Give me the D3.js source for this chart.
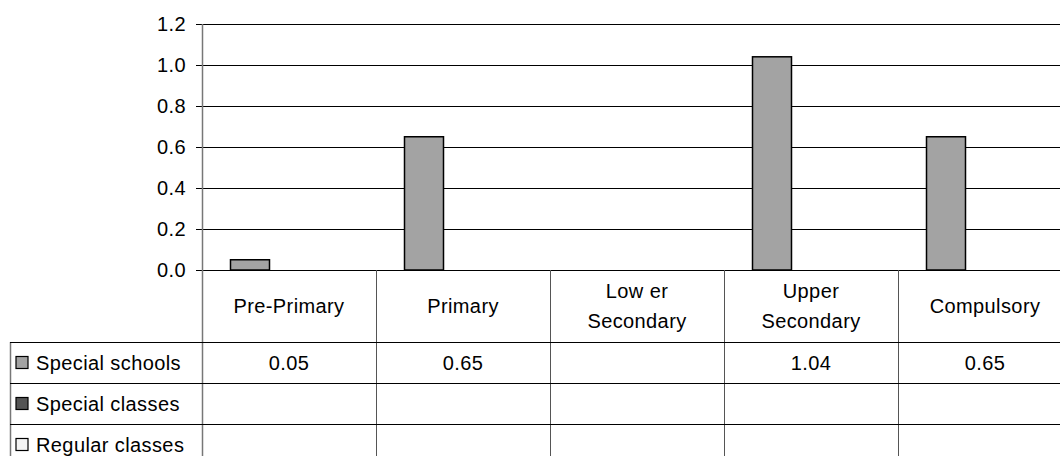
<!DOCTYPE html>
<html>
<head>
<meta charset="utf-8">
<script src="https://cdn.jsdelivr.net/npm/d3@7"></script>
<style>
  body { margin: 0; background: #fff; }
  text { font-family: "Liberation Sans", Arial, sans-serif; fill: #000; letter-spacing: 0.4px; }
</style>
</head>
<body>
<svg id="chart"></svg>
<script>
// data
const categories = [['Pre-Primary'], ['Primary'], ['Low er', 'Secondary'], ['Upper', 'Secondary'], ['Compulsory']]
const seriesNames = ['Special schools', 'Special classes', 'Regular classes']
const seriesColors = ['#a3a3a3', '#555555', '#f4f4f4']
const specialSchools = [0.05, 0.65, null, 1.04, 0.65]
const specialClasses = [null, null, null, null, null]
const regularClasses = [null, null, null, null, null]
const yTicks = [0, 0.2, 0.4, 0.6, 0.8, 1.0, 1.2]

const series = [specialSchools, specialClasses, regularClasses]

const width = 1060
const height = 456

/* layout */
const plot = { left: 202, right: 1072, top: 24, bottom: 270 }
const table = { left: 10, headBottom: 342, rowH: 41 }
const fontSize = 20

const svg = d3.select('#chart')
  .attr('width', width)
  .attr('height', height)
  .style('font-size', fontSize + 'px')

const x = d3.scaleBand()
  .domain(d3.range(categories.length))
  .range([plot.left, plot.right])

const x1 = d3.scaleBand()
  .domain(d3.range(series.length))
  .range([28.5, x.bandwidth() - 28.5])

const y = d3.scaleLinear()
  .domain([0, 1.2])
  .range([plot.bottom, plot.top])

// gridlines + y axis
const yAxis = d3.axisLeft(y)
  .tickValues(yTicks)
  .tickFormat(d3.format('.1f'))
  .tickSize(6)
  .tickPadding(10)

const gy = svg.append('g')
  .attr('transform', `translate(${plot.left},0)`)
  .call(yAxis)
gy.select('.domain').remove()
gy.selectAll('.tick line').attr('stroke', '#000')
gy.selectAll('.tick text')
  .style('font-family', '"Liberation Sans", Arial, sans-serif')
  .style('font-size', fontSize + 'px')
  .attr('fill', '#000')

svg.append('g')
  .selectAll('line')
  .data(yTicks)
  .join('line')
  .attr('x1', plot.left)
  .attr('x2', width)
  .attr('y1', d => Math.round(y(d)) + 0.5)
  .attr('y2', d => Math.round(y(d)) + 0.5)
  .attr('stroke', '#000')
  .attr('stroke-width', 1)

// bars
series.forEach((vals, si) => {
  svg.append('g')
    .selectAll('rect')
    .data(vals.map((v, i) => ({ v, i })).filter(d => d.v != null))
    .join('rect')
    .attr('x', d => x(d.i) + x1(si))
    .attr('y', d => y(d.v))
    .attr('width', x1.bandwidth())
    .attr('height', d => y(0) - y(d.v))
    .attr('fill', seriesColors[si])
    .attr('stroke', '#000')
    .attr('stroke-width', 1.5)
})

// data table
const rowsTop = table.headBottom
const tableBottom = rowsTop + table.rowH * series.length + 10

// vertical lines: axis + category boundaries
svg.append('g')
  .selectAll('line')
  .data(d3.range(categories.length))
  .join('line')
  .attr('x1', i => Math.round(x(i)) + 0.5)
  .attr('x2', i => Math.round(x(i)) + 0.5)
  .attr('y1', i => i === 0 ? plot.top : plot.bottom)
  .attr('y2', tableBottom)
  .attr('stroke', i => i === 0 ? '#777' : '#555')
  .attr('stroke-width', i => i === 0 ? 1.5 : 1)

svg.append('line')
  .attr('x1', table.left + 0.5).attr('x2', table.left + 0.5)
  .attr('y1', rowsTop).attr('y2', tableBottom)
  .attr('stroke', '#777').attr('stroke-width', 1.5)

// horizontal row lines
svg.append('g')
  .selectAll('line')
  .data(d3.range(series.length))
  .join('line')
  .attr('x1', table.left)
  .attr('x2', width)
  .attr('y1', i => Math.round(rowsTop + i * table.rowH) + 0.5)
  .attr('y2', i => Math.round(rowsTop + i * table.rowH) + 0.5)
  .attr('stroke', '#000')

// category labels
const headMid = (plot.bottom + table.headBottom) / 2
svg.append('g')
  .selectAll('text')
  .data(categories)
  .join('text')
  .attr('text-anchor', 'middle')
  .attr('dominant-baseline', 'central')
  .each(function (lines, i) {
    const t = d3.select(this)
    lines.forEach((l, k) => {
      t.append('tspan')
        .attr('x', x(i) + x.bandwidth() / 2)
        .attr('y', headMid + (k - (lines.length - 1) / 2) * 30)
        .text(l)
    })
  })

// legend keys + names
series.forEach((vals, si) => {
  const cy = rowsTop + si * table.rowH + table.rowH / 2
  svg.append('rect')
    .attr('x', 16).attr('y', cy - 6)
    .attr('width', 12).attr('height', 12)
    .attr('fill', seriesColors[si])
    .attr('stroke', '#000').attr('stroke-width', 1.2)
  svg.append('text')
    .attr('x', 36).attr('y', cy)
    .attr('dominant-baseline', 'central')
    .text(seriesNames[si])

  svg.append('g')
    .selectAll('text')
    .data(vals.map((v, i) => ({ v, i })).filter(d => d.v != null))
    .join('text')
    .attr('x', d => x(d.i) + x.bandwidth() / 2)
    .attr('y', cy)
    .attr('text-anchor', 'middle')
    .attr('dominant-baseline', 'central')
    .text(d => d3.format('.2f')(d.v))
})
</script>
</body>
</html>
